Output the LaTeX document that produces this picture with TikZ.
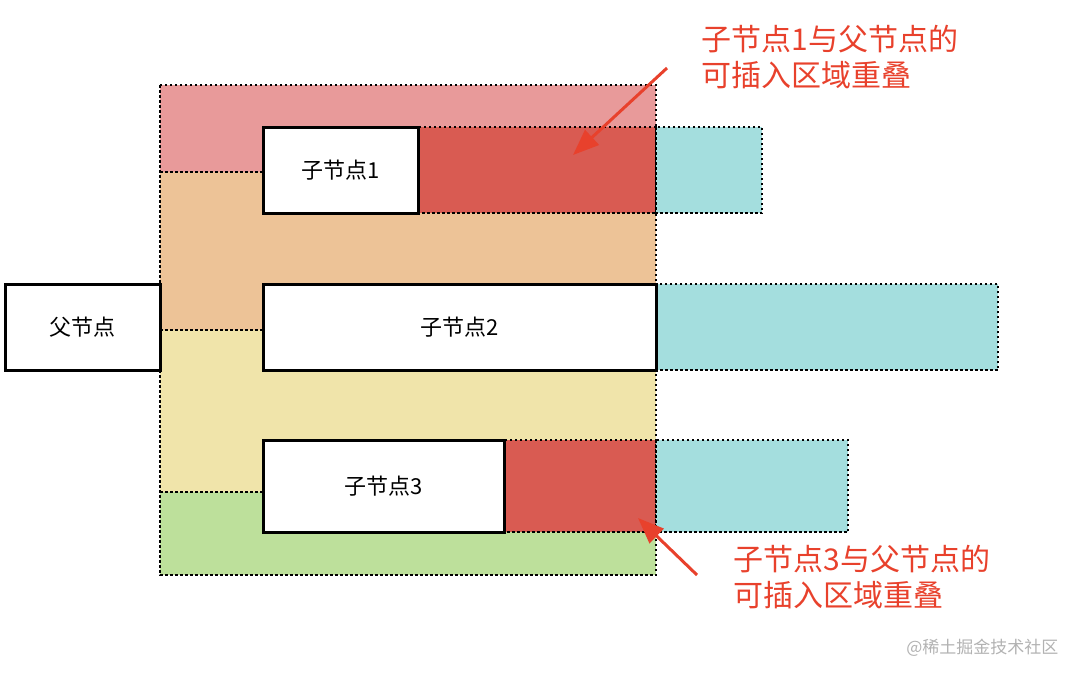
\documentclass[tikz,border=0pt]{standalone}
\usepackage{fontspec}
\newfontfamily\cjk{Noto Sans CJK SC}
\definecolor{cpink}{HTML}{E89A9A}
\definecolor{corange}{HTML}{EDC397}
\definecolor{cyellow}{HTML}{F0E4AA}
\definecolor{cgreen}{HTML}{BDE09B}
\definecolor{cred}{HTML}{D95B52}
\definecolor{ccyan}{HTML}{A4DEDE}
\definecolor{ann}{HTML}{E8412C}
\usetikzlibrary{arrows.meta}
\begin{document}
\begin{tikzpicture}[x=1pt,y=-1pt,
  zone/.style={draw=black,line width=2.5pt,dash pattern=on 2.5pt off 2.5pt},
  box/.style={draw=black,line width=3pt,fill=white,font=\cjk\fontsize{22}{24}\selectfont},
  note/.style={text=ann,font=\cjk\fontsize{30}{36}\selectfont,align=left,anchor=north west},
  arr/.style={draw=ann,line width=3pt,-{Triangle[length=26pt,width=20pt]}}]
\useasboundingbox (0,0) rectangle (1082,678);
\fill[cpink] (160,85) rectangle (656,172);
\fill[corange] (160,172) rectangle (656,330);
\fill[cyellow] (160,330) rectangle (656,492);
\fill[cgreen] (160,492) rectangle (656,575);
\draw[zone] (160,85) rectangle (656,575);
\draw[zone] (160,172) -- (263,172);
\draw[zone] (160,330) -- (263,330);
\draw[zone] (160,492) -- (263,492);
\draw[zone,fill=cred] (418,127) rectangle (656,213);
\draw[zone,fill=ccyan] (656,127) rectangle (762,213);
\draw[zone,fill=ccyan] (656,284) rectangle (998,370);
\draw[zone,fill=cred] (504,440) rectangle (656,532);
\draw[zone,fill=ccyan] (656,440) rectangle (848,532);
\node[box,minimum width=155pt,minimum height=86pt] (p) at (82.5,327) {父节点};
\node[box,minimum width=155pt,minimum height=86pt] (c1) at (340.5,170) {子节点1};
\node[box,minimum width=393pt,minimum height=86pt] (c2) at (459.5,327) {子节点2};
\node[box,minimum width=241pt,minimum height=92pt] (c3) at (383.5,486) {子节点3};
\node[note] (n1) at (698,22) {子节点1与父节点的\\可插入区域重叠};
\node[note] (n3) at (730,542) {子节点3与父节点的\\可插入区域重叠};
\coordinate (t1) at (573,155);
\coordinate (t3) at (638,518);
\draw[arr] (667,68) -- (t1);
\draw[arr] (697,575) -- (t3);
\node[text=gray!60,font=\cjk\fontsize{17}{20}\selectfont,anchor=east] (wm) at (1062,648) {@稀土掘金技术社区};
\end{tikzpicture}
\end{document}
